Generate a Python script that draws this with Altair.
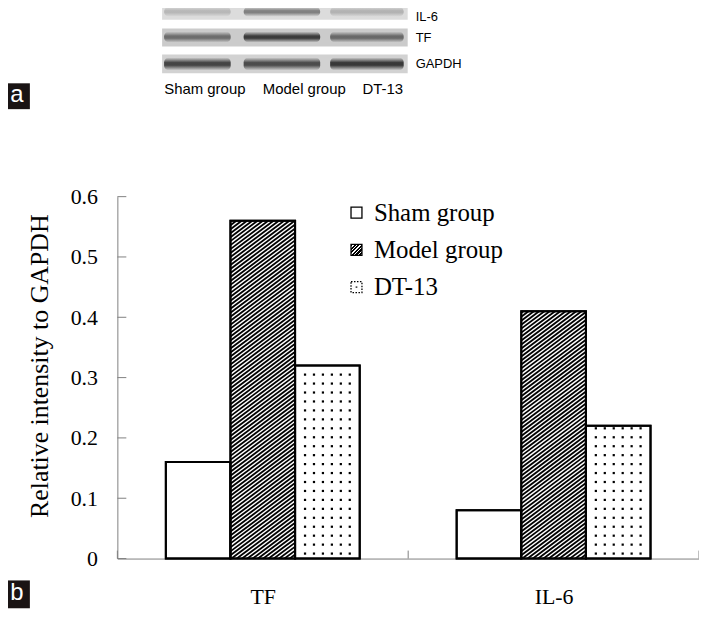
import altair as alt
import pandas as pd

# ---------------- data ----------------
groups = ["TF", "IL-6"]
series = ["Sham group", "Model group", "DT-13"]
tf_values = [0.16, 0.56, 0.32]
il6_values = [0.08, 0.41, 0.22]
y_ticks = [0, 0.1, 0.2, 0.3, 0.4, 0.5, 0.6]
y_title = "Relative intensity to GAPDH"

# western blot panel (a)
blot_rows = ["IL-6", "TF", "GAPDH"]
blot_lanes = ["Sham group", "Model group", "DT-13"]
il6_band = [0.22, 0.55, 0.25]
tf_band = [0.62, 0.95, 0.65]
gapdh_band = [0.9, 0.85, 0.98]
band_levels = [il6_band, tf_band, gapdh_band]

# ---------------- layout ----------------
W, H = 585, 364
PL, PT = 110, 188
YMAX = 0.6
PXY = H / YMAX
PXX = W / 2.0
BAR_PX = 65
BW = BAR_PX / PXX
GREY = "#808080"
SERIF = "Liberation Serif"
SANS = "Liberation Sans"
HATCH_SLOPE = 0.75     # stripe slope (pixels up per pixel right)
HATCH_STEP = 4.0       # vertical distance between stripes, px
HATCH_WIDTH = 1.8

rows = []
for gi, (g, vals) in enumerate(zip(groups, [tf_values, il6_values])):
    for si, (s, v) in enumerate(zip(series, vals)):
        rows.append({"group": g, "gi": gi, "series": s, "si": si, "value": v})
df = pd.DataFrame(rows)

xscale = alt.Scale(domain=[0, 2], nice=False, zero=False)
yscale = alt.Scale(domain=[0, YMAX], nice=False)

x_label_expr = f"datum.value < 1 ? '{groups[0]}' : '{groups[1]}'"
XAXIS = alt.Axis(values=[0.5, 1.5], labelExpr=x_label_expr, ticks=False, tickSize=0,
                 labelPadding=28, labelFont=SERIF, labelFontSize=22, labelColor="black",
                 domainColor=GREY, domainWidth=1, grid=False, title=None)
YAXIS = alt.Axis(values=y_ticks, format=".1~f", ticks=False, tickSize=0, labelPadding=20,
                 labelFont=SERIF, labelFontSize=22, labelColor="black",
                 domainColor=GREY, domainWidth=1, grid=False,
                 title=y_title, titleFont=SERIF, titleFontSize=26, titleFontWeight="normal",
                 titleColor="black", titleAngle=270, titleX=-78, titleY=170,
                 titleAlign="center", titleBaseline="middle")


def X(field):
    return alt.X(field, scale=xscale, axis=XAXIS)


def Y(field):
    return alt.Y(field, scale=yscale, axis=YAXIS)


def with_geom(ch):
    return (ch.transform_calculate(xc=f"datum.gi + 0.5 + (datum.si - 1) * {BW}")
              .transform_calculate(x0=f"datum.xc - {BW / 2}")
              .transform_calculate(x1=f"datum.xc + {BW / 2}"))


def hatch(w, h, a=1.0, P=4.0, frac=0.62, fg="black", bg="white"):
    n = max(1, round((a * w + h) / P))
    k = (a * w + h) / ((a * w) ** 2 + h ** 2)
    stops = []
    for i in range(n):
        o0, o1, o2 = i / n, (i + frac) / n, (i + 1) / n
        stops += [alt.GradientStop(offset=o0, color=fg), alt.GradientStop(offset=o1, color=fg),
                  alt.GradientStop(offset=o1, color=bg), alt.GradientStop(offset=min(o2, 1.0), color=bg)]
    return alt.LinearGradient(gradient="linear", stops=stops, x1=0, y1=0, x2=k * a * w, y2=k * h)


bars = with_geom(alt.Chart(df)).mark_rect(fill="white", stroke="black", strokeWidth=2).encode(
    x=X("x0:Q"), x2="x1:Q", y=Y("value:Q"), y2=alt.datum(0))
layers = [bars]

# hatch lines inside the model-group bars (clipped to each bar)
a, P = HATCH_SLOPE, HATCH_STEP
hatch_lines = (with_geom(alt.Chart(df)).transform_filter("datum.si == 1")
               .transform_calculate(hp=f"datum.value * {PXY}")
               .transform_calculate(bs=f"sequence({-a * BAR_PX}, datum.hp, {P})")
               .transform_flatten(["bs"])
               .transform_calculate(xs=f"max(0, -datum.bs / {a})")
               .transform_calculate(xe=f"min({BAR_PX}, (datum.hp - datum.bs) / {a})")
               .transform_filter("datum.xe > datum.xs")
               .transform_calculate(xa=f"datum.x0 + datum.xs / {PXX}")
               .transform_calculate(xb=f"datum.x0 + datum.xe / {PXX}")
               .transform_calculate(ya=f"({a} * datum.xs + datum.bs) / {PXY}")
               .transform_calculate(yb=f"({a} * datum.xe + datum.bs) / {PXY}")
               .mark_rule(color="black", strokeWidth=HATCH_WIDTH, strokeCap="butt")
               .encode(x=X("xa:Q"), x2="xb:Q", y=Y("ya:Q"), y2="yb:Q"))
layers.append(hatch_lines)

# dotted DT-13 bars
dots = (with_geom(alt.Chart(df)).transform_filter("datum.si == 2")
        .transform_calculate(xs=f"sequence(datum.x0 + {10 / PXX}, datum.x1 - {5 / PXX}, {9 / PXX})")
        .transform_calculate(ys=f"sequence({5 / PXY}, datum.value - {2 / PXY}, {9 / PXY})")
        .transform_flatten(["xs"]).transform_flatten(["ys"])
        .mark_square(size=5, color="black", filled=True, opacity=1)
        .encode(x=X("xs:Q"), y=Y("ys:Q")))
layers.append(dots)

# bar outlines on top
layers.append(with_geom(alt.Chart(df)).mark_rect(fillOpacity=0, stroke="black", strokeWidth=2).encode(
    x=X("x0:Q"), x2="x1:Q", y=Y("value:Q"), y2=alt.datum(0)))

# inward ticks
layers.append(alt.Chart(pd.DataFrame({"t": y_ticks})).mark_rule(color=GREY, strokeWidth=1).encode(
    y=Y("t:Q"), x=alt.value(0), x2=alt.value(9)))
layers.append(alt.Chart(pd.DataFrame({"b": [0, 1, 2]})).mark_rule(color=GREY, strokeWidth=1).encode(
    x=X("b:Q"), y=alt.value(H), y2=alt.value(H - 8)))

# legend
leg_fills = ["white", hatch(11, 11), "white"]
for i, s in enumerate(series):
    yc = 16 + i * 37.5
    sq = alt.Chart(pd.DataFrame({"label": [s]})).mark_rect(
        fill=leg_fills[i], stroke="black", strokeWidth=1.3,
        **({"strokeDash": [1.5, 1.5]} if i == 2 else {})
    ).encode(x=alt.value(235), x2=alt.value(246), y=alt.value(yc - 5.5), y2=alt.value(yc + 5.5))
    layers.append(sq)
    if i == 2:
        layers.append(alt.Chart(pd.DataFrame({"label": [s]})).mark_square(size=3, color="black", filled=True)
                      .encode(x=alt.value(240.5), y=alt.value(yc)))
    layers.append(alt.Chart(pd.DataFrame({"label": [s]})).mark_text(
        align="left", baseline="middle", font=SERIF, fontSize=25, color="black").encode(
        x=alt.value(258), y=alt.value(yc), text="label:N"))

# ---------------- panel (a): western blot ----------------
row_y = [(-196, -178), (-169, -151), (-143, -124)]
row_bg = ["#dcdcdc", "#cbcbcb", "#d2d2d2"]
band_y = [(-191, -181), (-166, -155), (-140, -127)]
lane_x = [(47, 114), (127, 204), (214, 288)]
label_y = [-181, -160, -133]
for r, name in enumerate(blot_rows):
    y0, y1 = row_y[r]
    layers.append(alt.Chart(pd.DataFrame({"label": [name]})).mark_rect(fill=row_bg[r]).encode(
        x=alt.value(45), x2=alt.value(292), y=alt.value(y0), y2=alt.value(y1)))
    for j, lane in enumerate(blot_lanes):
        d = band_levels[r][j]
        grad = alt.LinearGradient(gradient="linear", x1=0, y1=0, x2=0, y2=1, stops=[
            alt.GradientStop(offset=0, color="rgba(25,25,25,0)"),
            alt.GradientStop(offset=0.4, color="rgba(25,25,25,1)"),
            alt.GradientStop(offset=0.6, color="rgba(25,25,25,1)"),
            alt.GradientStop(offset=1, color="rgba(25,25,25,0)")])
        bx0, bx1 = lane_x[j]
        by0, by1 = band_y[r]
        layers.append(alt.Chart(pd.DataFrame({"label": [lane]})).mark_rect(
            fill=grad, opacity=d * 0.85, cornerRadius=5).encode(
            x=alt.value(bx0), x2=alt.value(bx1), y=alt.value(by0), y2=alt.value(by1)))
    layers.append(alt.Chart(pd.DataFrame({"label": [name]})).mark_text(
        align="left", baseline="middle", font=SANS, fontSize=13, color="black").encode(
        x=alt.value(300), y=alt.value(label_y[r]), text="label:N"))

lane_cx = [88, 188, 267]
for j, lane in enumerate(blot_lanes):
    layers.append(alt.Chart(pd.DataFrame({"label": [lane]})).mark_text(
        align="center", baseline="middle", font=SANS, fontSize=15, color="black").encode(
        x=alt.value(lane_cx[j]), y=alt.value(-108), text="label:N"))

# panel letters
for letter, (ly0, ly1) in [("a", (-114, -88)), ("b", (386, 414))]:
    layers.append(alt.Chart(pd.DataFrame({"label": [letter]})).mark_rect(fill="#1a1414").encode(
        x=alt.value(-110), x2=alt.value(-88), y=alt.value(ly0), y2=alt.value(ly1)))
    layers.append(alt.Chart(pd.DataFrame({"label": [letter]})).mark_text(
        align="center", baseline="middle", font=SANS, fontSize=24, color="white").encode(
        x=alt.value(-101), y=alt.value((ly0 + ly1) / 2 - 1), text="label:N"))

chart = alt.layer(*layers).properties(
    width=W, height=H,
    autosize=alt.AutoSizeParams(type="none"),
    padding={"left": PL, "top": PT, "right": 0, "bottom": 50},
    background="white",
).configure_view(strokeWidth=0)

chart.save("out.html", embed_options={"renderer": "svg", "actions": False})
